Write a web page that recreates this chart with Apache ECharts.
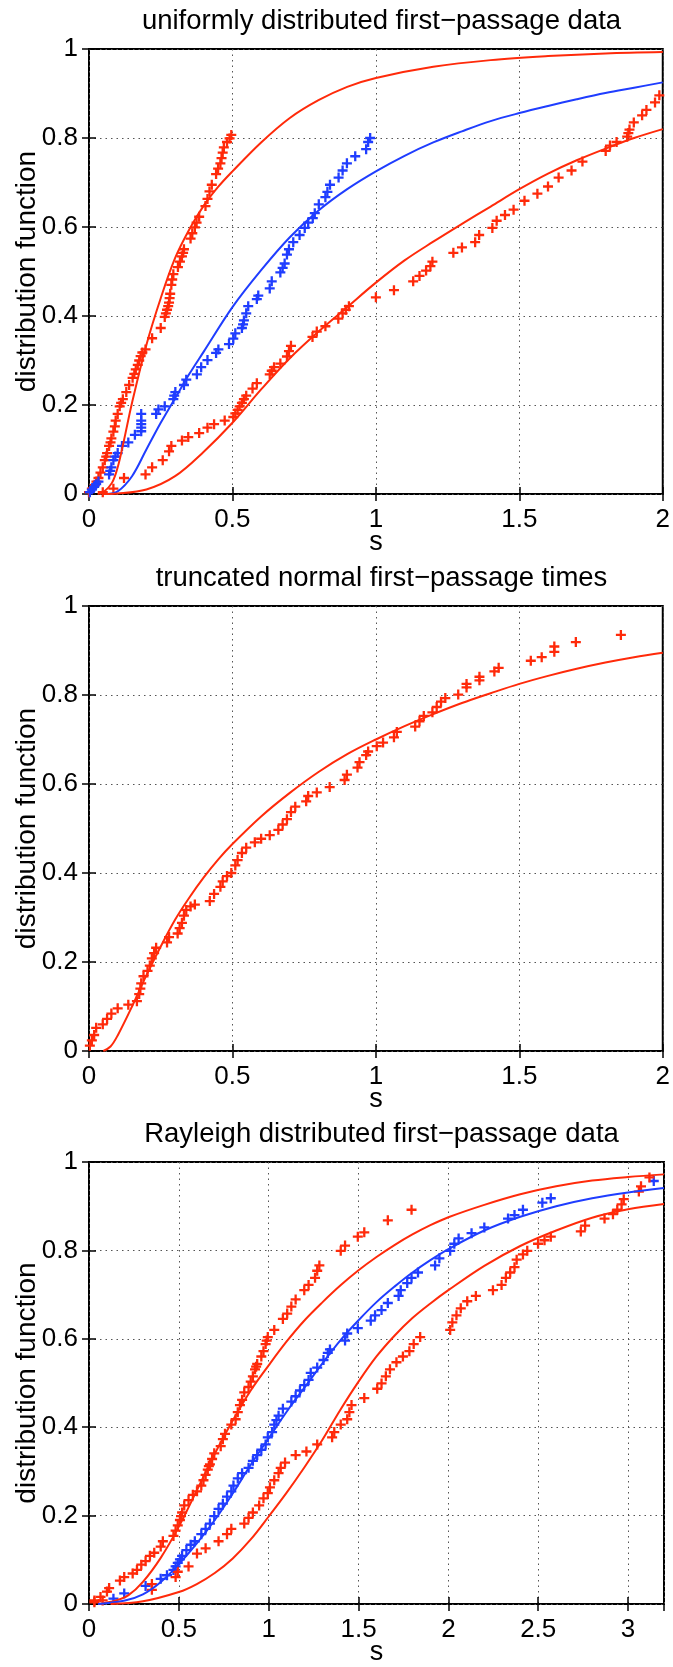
<!DOCTYPE html>
<html><head><meta charset="utf-8">
<script src="https://cdn.jsdelivr.net/npm/echarts@6/dist/echarts.min.js"></script>
<style>html,body{margin:0;padding:0;background:#fff}#c{width:673px;height:1667px}</style>
</head><body><div id="c"></div>
<script>
// ---------- data ----------
const panelTitles = ['uniformly distributed first\u2212passage data', 'truncated normal first\u2212passage times', 'Rayleigh distributed first\u2212passage data'];
const xAxisName = 's';
const yAxisName = 'distribution function';
const xMaxes = [2, 2, 3.2];
const xTickStep = 0.5;
const yTickStep = 0.2;

// Panel 1: fitted curves
const p1RedFitA = [[0.03,0],[0.05,0.004],[0.08,0.025],[0.1,0.06],[0.12,0.115],[0.15,0.205],[0.2,0.335],[0.25,0.44],[0.3,0.53],[0.35,0.595],[0.4,0.648],[0.45,0.69],[0.5,0.725],[0.6,0.79],[0.7,0.845],[0.8,0.885],[0.9,0.915],[1.0,0.935],[1.2,0.96],[1.4,0.975],[1.6,0.984],[1.8,0.99],[2.0,0.993]];
const p1BlueFit = [[0.06,0],[0.1,0.006],[0.15,0.04],[0.2,0.1],[0.25,0.16],[0.3,0.215],[0.35,0.27],[0.4,0.32],[0.5,0.42],[0.6,0.503],[0.7,0.577],[0.8,0.637],[0.9,0.685],[1.0,0.725],[1.1,0.76],[1.2,0.79],[1.3,0.815],[1.4,0.838],[1.5,0.856],[1.6,0.872],[1.7,0.887],[1.8,0.901],[1.9,0.913],[2.0,0.925]];
const p1RedFitB = [[0.05,0],[0.1,0.001],[0.2,0.01],[0.3,0.04],[0.4,0.095],[0.5,0.16],[0.6,0.235],[0.7,0.305],[0.8,0.365],[0.9,0.42],[1.0,0.475],[1.1,0.525],[1.2,0.567],[1.3,0.607],[1.4,0.646],[1.5,0.685],[1.6,0.72],[1.7,0.75],[1.8,0.776],[1.9,0.8],[2.0,0.82]];
// Panel 1: empirical points
const p1RedPtsA = [[0,0.004],[0.01,0.012],[0.02,0.02],[0.026,0.028],[0.033,0.036],[0.04,0.048],[0.048,0.06],[0.055,0.076],[0.06,0.084],[0.063,0.092],[0.07,0.108],[0.075,0.116],[0.078,0.125],[0.085,0.14],[0.09,0.152],[0.093,0.165],[0.1,0.18],[0.107,0.197],[0.112,0.205],[0.118,0.213],[0.13,0.229],[0.14,0.245],[0.152,0.261],[0.158,0.27],[0.163,0.28],[0.17,0.29],[0.175,0.3],[0.18,0.31],[0.186,0.318],[0.197,0.325],[0.22,0.35],[0.25,0.373],[0.264,0.398],[0.268,0.406],[0.272,0.414],[0.276,0.422],[0.279,0.43],[0.281,0.44],[0.283,0.45],[0.287,0.47],[0.29,0.482],[0.294,0.494],[0.31,0.51],[0.317,0.522],[0.324,0.534],[0.328,0.542],[0.331,0.55],[0.354,0.574],[0.36,0.586],[0.369,0.599],[0.375,0.61],[0.384,0.623],[0.406,0.647],[0.413,0.663],[0.42,0.68],[0.428,0.695],[0.443,0.719],[0.45,0.731],[0.458,0.743],[0.462,0.755],[0.466,0.767],[0.47,0.779],[0.481,0.791],[0.49,0.799],[0.496,0.807]];
const p1BluePts = [[0.003,0.004],[0.01,0.01],[0.018,0.016],[0.025,0.022],[0.033,0.028],[0.07,0.044],[0.074,0.052],[0.078,0.06],[0.085,0.076],[0.092,0.084],[0.1,0.092],[0.115,0.108],[0.137,0.116],[0.16,0.133],[0.182,0.141],[0.182,0.149],[0.182,0.157],[0.182,0.165],[0.182,0.18],[0.234,0.18],[0.242,0.19],[0.264,0.197],[0.294,0.213],[0.297,0.221],[0.301,0.229],[0.331,0.245],[0.339,0.257],[0.376,0.269],[0.391,0.285],[0.413,0.301],[0.443,0.317],[0.451,0.325],[0.488,0.337],[0.503,0.349],[0.51,0.361],[0.533,0.373],[0.537,0.381],[0.54,0.39],[0.548,0.406],[0.555,0.422],[0.585,0.438],[0.59,0.446],[0.63,0.462],[0.637,0.478],[0.667,0.498],[0.675,0.508],[0.682,0.518],[0.69,0.538],[0.697,0.55],[0.712,0.566],[0.734,0.582],[0.752,0.598],[0.764,0.61],[0.78,0.62],[0.787,0.631],[0.801,0.651],[0.824,0.667],[0.831,0.679],[0.84,0.695],[0.87,0.711],[0.884,0.727],[0.899,0.743],[0.928,0.759],[0.966,0.775],[0.973,0.791],[0.98,0.8]];
const p1RedPtsB = [[0.048,0.004],[0.085,0.012],[0.122,0.036],[0.197,0.044],[0.22,0.06],[0.257,0.076],[0.279,0.096],[0.287,0.108],[0.324,0.12],[0.346,0.128],[0.384,0.137],[0.413,0.149],[0.436,0.157],[0.473,0.165],[0.503,0.173],[0.51,0.181],[0.518,0.189],[0.525,0.197],[0.533,0.205],[0.54,0.213],[0.548,0.221],[0.57,0.237],[0.585,0.249],[0.63,0.269],[0.637,0.277],[0.645,0.285],[0.667,0.293],[0.69,0.309],[0.697,0.321],[0.704,0.333],[0.779,0.353],[0.794,0.365],[0.824,0.377],[0.869,0.394],[0.884,0.406],[0.895,0.414],[0.906,0.422],[1.0,0.442],[1.063,0.458],[1.13,0.478],[1.152,0.49],[1.175,0.502],[1.19,0.512],[1.197,0.522],[1.27,0.542],[1.3,0.554],[1.346,0.566],[1.36,0.582],[1.406,0.598],[1.421,0.614],[1.45,0.627],[1.48,0.639],[1.518,0.659],[1.563,0.675],[1.6,0.691],[1.637,0.711],[1.682,0.727],[1.72,0.747],[1.801,0.771],[1.816,0.783],[1.839,0.791],[1.876,0.803],[1.88,0.811],[1.884,0.819],[1.899,0.835],[1.928,0.851],[1.943,0.863],[1.973,0.88],[1.988,0.896]];

// Panel 2
const p2RedFit = [[0.05,0],[0.075,0.01],[0.1,0.035],[0.15,0.1],[0.2,0.17],[0.25,0.235],[0.3,0.295],[0.35,0.345],[0.4,0.39],[0.45,0.43],[0.5,0.465],[0.6,0.527],[0.7,0.58],[0.8,0.627],[0.9,0.667],[1.0,0.7],[1.1,0.73],[1.2,0.757],[1.3,0.782],[1.4,0.804],[1.5,0.825],[1.6,0.843],[1.7,0.859],[1.8,0.873],[1.9,0.885],[2.0,0.895]];
const p2RedPts = [[0.003,0.012],[0.01,0.024],[0.018,0.036],[0.025,0.052],[0.048,0.06],[0.063,0.072],[0.078,0.084],[0.1,0.096],[0.137,0.104],[0.167,0.112],[0.175,0.128],[0.179,0.14],[0.182,0.152],[0.19,0.168],[0.204,0.18],[0.212,0.192],[0.219,0.208],[0.227,0.22],[0.234,0.232],[0.272,0.244],[0.279,0.256],[0.309,0.264],[0.316,0.276],[0.324,0.288],[0.331,0.304],[0.339,0.317],[0.354,0.325],[0.369,0.329],[0.421,0.337],[0.436,0.353],[0.458,0.369],[0.466,0.381],[0.481,0.393],[0.496,0.4],[0.51,0.417],[0.518,0.429],[0.533,0.445],[0.548,0.457],[0.578,0.469],[0.6,0.477],[0.63,0.485],[0.66,0.497],[0.675,0.509],[0.69,0.521],[0.704,0.537],[0.719,0.549],[0.757,0.561],[0.764,0.573],[0.794,0.581],[0.839,0.593],[0.891,0.609],[0.899,0.621],[0.936,0.637],[0.943,0.649],[0.966,0.665],[0.973,0.673],[1.003,0.685],[1.025,0.693],[1.063,0.705],[1.073,0.717],[1.137,0.729],[1.152,0.741],[1.167,0.753],[1.197,0.761],[1.212,0.773],[1.227,0.785],[1.242,0.793],[1.287,0.801],[1.316,0.817],[1.316,0.825],[1.361,0.833],[1.361,0.841],[1.413,0.853],[1.428,0.861],[1.54,0.877],[1.578,0.885],[1.622,0.897],[1.622,0.909],[1.697,0.919],[1.854,0.935]];

// Panel 3
const p3RedFitA = [[0.05,0],[0.15,0.008],[0.22,0.02],[0.3,0.05],[0.4,0.105],[0.5,0.175],[0.6,0.257],[0.7,0.34],[0.8,0.415],[0.9,0.483],[1.0,0.54],[1.1,0.594],[1.2,0.642],[1.3,0.683],[1.4,0.721],[1.5,0.755],[1.6,0.785],[1.7,0.812],[1.8,0.836],[1.9,0.857],[2.0,0.875],[2.2,0.903],[2.4,0.927],[2.6,0.945],[2.8,0.958],[3.0,0.966],[3.2,0.972]];
const p3BlueFit = [[0.05,0],[0.2,0.008],[0.3,0.022],[0.4,0.05],[0.5,0.09],[0.6,0.137],[0.7,0.19],[0.8,0.25],[0.9,0.315],[1.0,0.375],[1.1,0.435],[1.2,0.49],[1.3,0.545],[1.4,0.597],[1.5,0.642],[1.6,0.683],[1.7,0.718],[1.8,0.75],[1.9,0.778],[2.0,0.803],[2.2,0.845],[2.4,0.876],[2.6,0.9],[2.8,0.918],[3.0,0.931],[3.2,0.941]];
const p3RedFitB = [[0.12,0],[0.3,0.006],[0.5,0.027],[0.6,0.045],[0.7,0.07],[0.8,0.103],[0.9,0.146],[1.0,0.198],[1.1,0.252],[1.2,0.31],[1.3,0.372],[1.4,0.44],[1.5,0.503],[1.6,0.56],[1.7,0.607],[1.8,0.647],[1.9,0.68],[2.0,0.71],[2.2,0.765],[2.4,0.81],[2.6,0.845],[2.8,0.874],[3.0,0.893],[3.2,0.905]];
const p3RedPtsA = [[0.03,0.008],[0.064,0.016],[0.1,0.028],[0.112,0.036],[0.172,0.053],[0.196,0.061],[0.243,0.069],[0.267,0.077],[0.291,0.089],[0.315,0.097],[0.339,0.109],[0.363,0.116],[0.399,0.13],[0.411,0.142],[0.47,0.154],[0.482,0.166],[0.494,0.178],[0.506,0.19],[0.512,0.199],[0.518,0.207],[0.53,0.223],[0.554,0.235],[0.578,0.247],[0.601,0.255],[0.625,0.268],[0.637,0.28],[0.649,0.292],[0.661,0.304],[0.667,0.312],[0.673,0.316],[0.685,0.328],[0.697,0.341],[0.733,0.357],[0.745,0.373],[0.757,0.385],[0.792,0.406],[0.816,0.418],[0.828,0.434],[0.84,0.45],[0.852,0.462],[0.864,0.479],[0.888,0.491],[0.9,0.503],[0.912,0.515],[0.924,0.531],[0.93,0.537],[0.936,0.543],[0.959,0.56],[0.971,0.572],[0.983,0.588],[0.989,0.596],[0.995,0.604],[1.031,0.62],[1.079,0.645],[1.103,0.657],[1.126,0.673],[1.15,0.689],[1.198,0.71],[1.222,0.722],[1.258,0.738],[1.27,0.754],[1.282,0.766],[1.401,0.799],[1.425,0.811],[1.496,0.831],[1.532,0.841],[1.663,0.868],[1.795,0.892]];
const p3BluePts = [[0.136,0.012],[0.196,0.024],[0.315,0.041],[0.399,0.057],[0.434,0.065],[0.47,0.077],[0.482,0.085],[0.494,0.093],[0.506,0.101],[0.518,0.109],[0.542,0.122],[0.566,0.134],[0.589,0.142],[0.625,0.158],[0.649,0.17],[0.673,0.182],[0.697,0.199],[0.721,0.215],[0.745,0.227],[0.768,0.243],[0.792,0.255],[0.804,0.268],[0.828,0.284],[0.852,0.296],[0.888,0.308],[0.912,0.324],[0.936,0.337],[0.959,0.349],[0.983,0.361],[0.995,0.377],[1.019,0.389],[1.031,0.406],[1.043,0.416],[1.055,0.426],[1.079,0.442],[1.126,0.458],[1.15,0.47],[1.174,0.483],[1.198,0.495],[1.222,0.507],[1.234,0.523],[1.27,0.535],[1.305,0.552],[1.329,0.568],[1.341,0.576],[1.425,0.596],[1.437,0.612],[1.496,0.624],[1.568,0.641],[1.592,0.653],[1.628,0.665],[1.663,0.681],[1.723,0.697],[1.735,0.71],[1.771,0.726],[1.795,0.738],[1.831,0.75],[1.926,0.766],[1.95,0.782],[2.01,0.799],[2.033,0.815],[2.057,0.827],[2.129,0.839],[2.2,0.852],[2.332,0.872],[2.368,0.88],[2.415,0.892],[2.523,0.908],[2.57,0.918],[3.143,0.957]];
const p3RedPtsB = [[0.03,0.004],[0.076,0.008],[0.35,0.032],[0.35,0.045],[0.482,0.061],[0.494,0.073],[0.554,0.085],[0.601,0.114],[0.649,0.126],[0.721,0.142],[0.768,0.158],[0.792,0.17],[0.864,0.182],[0.888,0.195],[0.912,0.207],[0.947,0.223],[0.971,0.239],[0.995,0.251],[1.007,0.264],[1.031,0.28],[1.055,0.296],[1.067,0.308],[1.091,0.32],[1.15,0.337],[1.21,0.345],[1.27,0.361],[1.353,0.377],[1.365,0.389],[1.401,0.406],[1.437,0.418],[1.449,0.434],[1.461,0.45],[1.532,0.466],[1.604,0.487],[1.628,0.499],[1.652,0.515],[1.675,0.531],[1.711,0.547],[1.747,0.56],[1.783,0.572],[1.807,0.588],[1.843,0.604],[2.01,0.62],[2.022,0.637],[2.045,0.653],[2.069,0.669],[2.105,0.685],[2.153,0.697],[2.248,0.71],[2.296,0.722],[2.32,0.738],[2.344,0.75],[2.368,0.762],[2.38,0.779],[2.415,0.791],[2.439,0.799],[2.499,0.815],[2.535,0.823],[2.57,0.831],[2.737,0.843],[2.761,0.856],[2.869,0.872],[2.916,0.882],[2.94,0.892],[2.964,0.904],[2.976,0.916],[3.06,0.933],[3.072,0.945],[3.119,0.965]];

// ---------- styling / layout ----------
const RED = '#ff2a0a';
const BLUE = '#1f3dff';
const FONT = 'Liberation Sans, Helvetica, Arial, sans-serif';
const FS_TICK = 26, FS_TITLE = 27.5, FS_YNAME = 28, FS_XNAME = 27;
const gridTops = [49, 606, 1162];
const gridHeights = [445, 445, 444];
const plotLeft = 89, plotWidth = 575;
const PLUS = 'path://M3.85,0H6.15V3.85H10V6.15H6.15V10H3.85V6.15H0V3.85H3.85Z';

const panels = [
  { lines: [[p1RedFitA, RED], [p1BlueFit, BLUE], [p1RedFitB, RED]], pts: [[p1RedPtsA, RED], [p1BluePts, BLUE], [p1RedPtsB, RED]] },
  { lines: [[p2RedFit, RED]], pts: [[p2RedPts, RED]] },
  { lines: [[p3RedFitA, RED], [p3BlueFit, BLUE], [p3RedFitB, RED]], pts: [[p3RedPtsA, RED], [p3BluePts, BLUE], [p3RedPtsB, RED]] }
];

const grid = [], xAxis = [], yAxis = [], series = [], title = [];
const tick = { show: true, inside: true, length: 7, lineStyle: { color: '#000', width: 1.5 } };
const split = { show: true, lineStyle: { color: '#555', width: 1, type: [1.5, 4] } };

panels.forEach((p, i) => {
  grid.push({ left: plotLeft, width: plotWidth, top: gridTops[i], height: gridHeights[i], show: true, borderColor: '#000', borderWidth: 2, backgroundColor: 'transparent' });
  title.push({ text: panelTitles[i], left: plotLeft + plotWidth / 2, top: gridTops[i] - 47, textAlign: 'center',
    textStyle: { fontFamily: FONT, fontSize: FS_TITLE, fontWeight: 'normal', color: '#000' } });
  const xi = xAxis.length, yi = yAxis.length;
  xAxis.push({ type: 'value', gridIndex: i, min: 0, max: xMaxes[i], interval: xTickStep, position: 'bottom',
    axisLine: { show: false }, axisTick: tick, splitLine: split,
    axisLabel: { fontFamily: FONT, fontSize: FS_TICK, color: '#000', margin: 13, showMaxLabel: xMaxes[i] % xTickStep === 0 },
    name: xAxisName, nameLocation: 'middle', nameGap: 35, nameMoveOverlap: false,
    nameTextStyle: { fontFamily: FONT, fontSize: FS_XNAME, color: '#000' } });
  xAxis.push({ type: 'value', gridIndex: i, min: 0, max: xMaxes[i], interval: xTickStep, position: 'top',
    axisLine: { show: false }, axisTick: tick, splitLine: { show: false }, axisLabel: { show: false } });
  yAxis.push({ type: 'value', gridIndex: i, min: 0, max: 1, interval: yTickStep, position: 'left',
    axisLine: { show: false }, axisTick: tick, splitLine: split,
    axisLabel: { fontFamily: FONT, fontSize: FS_TICK, color: '#000', margin: 11 },
    name: yAxisName, nameLocation: 'middle', nameGap: 48, nameRotate: 90, nameMoveOverlap: false,
    nameTextStyle: { fontFamily: FONT, fontSize: FS_YNAME, color: '#000' } });
  yAxis.push({ type: 'value', gridIndex: i, min: 0, max: 1, interval: yTickStep, position: 'right',
    axisLine: { show: false }, axisTick: tick, splitLine: { show: false }, axisLabel: { show: false } });
  p.pts.forEach(([d, c]) => series.push({ type: 'scatter', xAxisIndex: xi, yAxisIndex: yi, data: d, symbol: PLUS, symbolSize: 10,
    itemStyle: { color: c, opacity: 1 }, silent: true, z: 3 }));
  p.lines.forEach(([d, c]) => series.push({ type: 'line', xAxisIndex: xi, yAxisIndex: yi, data: d, smooth: 0.35, showSymbol: false,
    lineStyle: { color: c, width: 2 }, silent: true, clip: true, z: 4 }));
});

const chart = echarts.init(document.getElementById('c'), null, { renderer: 'canvas' });
chart.setOption({ animation: false, backgroundColor: '#fff', title, grid, xAxis, yAxis, series });
</script>
</body></html>
